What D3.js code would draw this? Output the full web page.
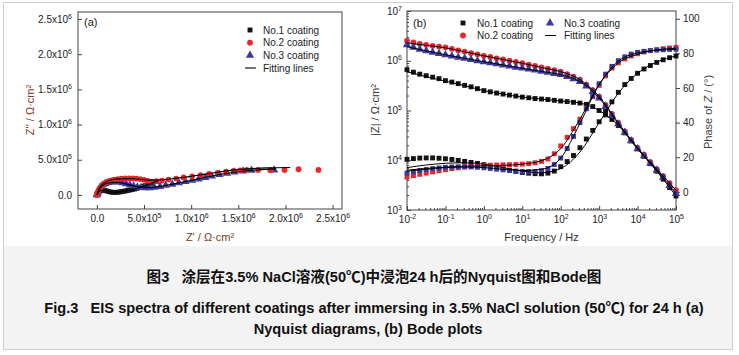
<!DOCTYPE html>
<html><head><meta charset="utf-8">
<script src="https://cdn.jsdelivr.net/npm/d3@7"></script>
<style>
body{margin:0;background:#fff;}
svg{display:block;font-family:"Liberation Sans",Arial,"Noto Sans CJK SC",sans-serif;}
</style></head><body>
<svg id="c" width="739" height="355"></svg>
<script>
// ---------------- DATA ----------------
const seriesNames = ["No.1 coating", "No.2 coating", "No.3 coating"];
const fitName = "Fitting lines";

// Nyquist data: [Z', Z''] in units of 10^6 Ω·cm²
const nyq1 = [[0,0],[0.005,0.015],[0.012,0.032],[0.022,0.048],[0.036,0.060],[0.055,0.066],[0.078,0.065],[0.10,0.058],[0.125,0.048],[0.15,0.040],[0.175,0.036],[0.20,0.036],[0.225,0.039],[0.25,0.044],[0.275,0.050],[0.30,0.056],[0.325,0.063],[0.35,0.070],[0.375,0.077],[0.40,0.085],[0.425,0.094],[0.45,0.104],[0.48,0.117],[0.51,0.131],[0.545,0.148],[0.58,0.165],[0.63,0.19]];
const nyq2 = [[0,0],[0.005,0.020],[0.012,0.045],[0.022,0.075],[0.035,0.105],[0.052,0.135],[0.075,0.160],[0.105,0.185],[0.14,0.205],[0.18,0.218],[0.22,0.226],[0.26,0.232],[0.30,0.235],[0.34,0.236],[0.38,0.235],[0.42,0.232],[0.46,0.226],[0.50,0.215],[0.54,0.200],[0.58,0.190],[0.63,0.195],[0.69,0.205],[0.76,0.218],[0.84,0.232],[0.92,0.248],[1.01,0.265],[1.10,0.282],[1.19,0.298],[1.28,0.315],[1.37,0.330],[1.45,0.342],[1.52,0.350],[1.59,0.355],[1.71,0.355],[1.84,0.352],[1.99,0.355],[2.14,0.365],[2.35,0.355]];
const nyq3 = [[0,0],[0.004,0.018],[0.010,0.042],[0.018,0.068],[0.03,0.095],[0.045,0.12],[0.065,0.143],[0.09,0.162],[0.12,0.175],[0.155,0.183],[0.19,0.185],[0.23,0.182],[0.27,0.172],[0.31,0.158],[0.35,0.142],[0.39,0.126],[0.43,0.113],[0.47,0.104],[0.51,0.100],[0.56,0.102],[0.61,0.108],[0.67,0.12],[0.73,0.135],[0.80,0.152],[0.87,0.17],[0.94,0.188],[1.01,0.206],[1.08,0.226],[1.15,0.246],[1.22,0.266],[1.30,0.288],[1.38,0.308],[1.46,0.325],[1.55,0.340],[1.64,0.35],[1.88,0.352]];
const nyqFit1 = [[0,0],[0.02,0.045],[0.05,0.065],[0.09,0.062],[0.14,0.045],[0.2,0.038],[0.3,0.055],[0.4,0.085],[0.5,0.125],[0.6,0.175],[0.65,0.2]];
const nyqFit2 = [[0,0],[0.02,0.08],[0.06,0.15],[0.12,0.2],[0.2,0.225],[0.3,0.232],[0.4,0.23],[0.48,0.22],[0.55,0.21],[0.65,0.212],[0.8,0.23],[1.0,0.265],[1.2,0.305],[1.4,0.345],[1.6,0.37],[1.8,0.385],[2.05,0.39]];
const nyqFit3 = [[0,0],[0.02,0.07],[0.06,0.13],[0.12,0.17],[0.2,0.18],[0.3,0.16],[0.4,0.125],[0.5,0.105],[0.6,0.11],[0.75,0.14],[0.9,0.18],[1.1,0.235],[1.3,0.29],[1.5,0.33],[1.7,0.355],[1.9,0.37]];
const nyqTicks = [0, 0.5, 1.0, 1.5, 2.0, 2.5];
const nyqTickLabels = [["0.0",""],["5.0x10","5"],["1.0x10","6"],["1.5x10","6"],["2.0x10","6"],["2.5x10","6"]];

// Bode data
const freq = [0.01,0.0147,0.0215,0.0316,0.0464,0.0681,0.1,0.147,0.215,0.316,0.464,0.681,1,1.47,2.15,3.16,4.64,6.81,10,14.7,21.5,31.6,46.4,68.1,100,147,215,316,464,681,1000,1470,2150,3160,4640,6810,10000,14700,21500,31600,46400,68100,100000];
const modZ1 = [6.61e5,5.89e5,5.37e5,5.01e5,4.68e5,4.37e5,3.98e5,3.72e5,3.47e5,3.20e5,2.99e5,2.75e5,2.51e5,2.37e5,2.24e5,2.14e5,2.04e5,1.95e5,1.86e5,1.80e5,1.74e5,1.70e5,1.66e5,1.60e5,1.55e5,1.51e5,1.46e5,1.41e5,1.33e5,1.20e5,1.00e5,8.13e4,6.61e4,5.01e4,3.55e4,2.45e4,1.70e4,1.20e4,8.51e3,6.03e3,4.17e3,2.82e3,1.91e3];
const modZ2 = [2.51e6,2.34e6,2.19e6,2.09e6,2.00e6,1.93e6,1.86e6,1.74e6,1.62e6,1.53e6,1.43e6,1.35e6,1.26e6,1.19e6,1.12e6,1.06e6,1.00e6,9.44e5,8.91e5,8.32e5,7.85e5,7.33e5,6.92e5,6.46e5,6.03e5,5.37e5,4.79e5,4.17e5,3.31e5,2.57e5,1.91e5,1.29e5,8.51e4,5.62e4,3.80e4,2.57e4,1.78e4,1.29e4,9.12e3,6.61e3,4.79e3,3.47e3,2.51e3];
const modZ3 = [2.09e6,1.86e6,1.70e6,1.58e6,1.48e6,1.40e6,1.32e6,1.24e6,1.17e6,1.12e6,1.06e6,1.00e6,9.55e5,9.12e5,8.71e5,8.22e5,7.85e5,7.41e5,7.08e5,6.76e5,6.46e5,6.10e5,5.82e5,5.50e5,5.25e5,4.79e5,4.32e5,3.80e5,3.09e5,2.40e5,1.78e5,1.20e5,7.94e4,5.37e4,3.63e4,2.45e4,1.70e4,1.23e4,8.71e3,6.31e3,4.47e3,3.09e3,2.14e3];
const phase1 = [18.8,19.2,19.5,19.6,19.6,19.4,19.1,18.7,18.2,17.6,17.0,16.4,15.7,14.9,14.1,13.3,12.5,11.8,11.2,10.8,10.5,10.4,10.8,12.0,14.5,17.5,21.0,25.5,30.5,35.5,40.5,46.5,52.0,57.5,62.0,65.5,68.5,71.0,73.0,74.8,76.3,77.5,78.5];
const phase2 = [8.5,9.3,10.1,10.8,11.5,12.2,12.8,13.4,13.9,14.3,14.7,15.0,15.2,15.4,15.5,15.6,15.7,15.8,16.0,16.3,16.8,17.6,19.0,22.0,26.5,31.5,36.5,42.0,48.5,55.0,61.5,67.0,71.5,74.5,76.8,78.5,79.8,80.8,81.6,82.2,82.7,83.1,83.5];
const phase3 = [10.8,11.6,12.3,12.9,13.4,13.8,14.2,14.4,14.5,14.5,14.4,14.2,13.9,13.5,13.1,12.7,12.3,12.0,11.8,11.7,11.8,12.3,13.5,15.8,19.5,25.0,32.0,40.0,48.0,55.5,62.5,68.0,72.5,75.8,78.0,79.6,80.6,81.2,81.6,81.9,82.1,82.3,82.4];
const fitFreq = [0.01,0.0316,0.1,0.316,1,3.16,10,31.6,100,316,1000,3160,10000,31600,100000];
const fitModZ1 = [6.03e5,4.79e5,3.89e5,3.16e5,2.51e5,2.14e5,1.86e5,1.70e5,1.55e5,1.41e5,1.00e5,5.01e4,1.70e4,6.03e3,1.91e3];
const fitModZ2 = [2.29e6,2.04e6,1.82e6,1.51e6,1.26e6,1.06e6,8.91e5,7.33e5,6.03e5,4.17e5,1.91e5,5.62e4,1.78e4,6.61e3,2.51e3];
const fitModZ3 = [1.91e6,1.58e6,1.32e6,1.12e6,9.55e5,8.22e5,7.08e5,6.10e5,5.25e5,3.80e5,1.78e5,5.37e4,1.70e4,6.31e3,2.14e3];
const fitPhase1 = [14,15.5,16.5,16.8,16,14,12,11,13.5,23,40,57,68.5,75,78.5];
const fitPhase2 = [12.5,13.5,14.3,14.8,15,15.3,16,18,25,42,62,74.5,79.5,82,83];
const fitPhase3 = [12,13,14,14.3,14,13,12.3,13,19.5,39.5,62,75.5,80.3,81.8,82.3];
const freqTicks = [1e-2,1e-1,1,1e1,1e2,1e3,1e4,1e5];
const freqTickExps = ["-2","-1","0","1","2","3","4","5"];
const modZTicks = [1e3,1e4,1e5,1e6,1e7];
const modZTickExps = ["3","4","5","6","7"];
const phaseTicks = [0,20,40,60,80,100];

// ---------------- STYLE ----------------
const colors = ["#141414", "#e8262b", "#3a3a9e"];
const frameColor = "#444";
const tickTextColor = "#222";
const svg = d3.select("#c");

// border and caption
svg.append("rect").attr("x",0).attr("y",0).attr("width",739).attr("height",355).attr("fill","#fff");
svg.append("rect").attr("x",4).attr("y",246).attr("width",728).attr("height",103).attr("fill","#f3f3f3");
svg.append("rect").attr("x",3.5).attr("y",2.5).attr("width",729).attr("height",347).attr("fill","none").attr("stroke","#cfcfcf");

const cap = svg.append("g").attr("font-weight","bold").attr("font-size","14.6px").attr("fill","#111").attr("text-anchor","middle")
  .style("white-space","pre");
cap.append("text").attr("x",374).attr("y",282).text("图3\u00a0\u00a0\u00a0涂层在3.5% NaCl溶液(50℃)中浸泡24 h后的Nyquist图和Bode图");
cap.append("text").attr("x",374).attr("y",313).text("Fig.3\u00a0\u00a0\u00a0EIS spectra of different coatings after immersing in 3.5% NaCl solution (50℃) for 24 h (a)");
cap.append("text").attr("x",368).attr("y",334).text("Nyquist diagrams, (b) Bode plots");

function supText(sel, base, exp){
  sel.text(null);
  sel.append("tspan").text(base);
  if (exp !== "") sel.append("tspan").attr("dy","-4").attr("font-size","7px").text(exp);
}
function marker(type, size){
  const t = type===0 ? d3.symbolSquare : type===1 ? d3.symbolCircle : d3.symbolTriangle;
  return d3.symbol().type(t).size(size)();
}
const mSizes = [24, 26, 30];

// ---------------- PANEL (a) Nyquist ----------------
const xa = d3.scaleLinear().domain([-0.2, 2.6]).range([78, 342]);
const ya = d3.scaleLinear().domain([-0.2, 2.6]).range([209, 12]);
const gA = svg.append("g");

const axA_x = gA.append("g").attr("transform","translate(0,209)")
  .call(d3.axisBottom(xa).tickValues(nyqTicks).tickSize(-4).tickPadding(6).tickFormat(""));
axA_x.selectAll(".tick text").each(function(d,i){ supText(d3.select(this), nyqTickLabels[i][0], nyqTickLabels[i][1]); });
const axA_y = gA.append("g").attr("transform","translate(78,0)")
  .call(d3.axisLeft(ya).tickValues(nyqTicks).tickSize(-4).tickPadding(6).tickFormat(""));
axA_y.selectAll(".tick text").each(function(d,i){ supText(d3.select(this), nyqTickLabels[i][0], nyqTickLabels[i][1]); });
[axA_x, axA_y].forEach(a=>{
  a.select(".domain").remove();
  a.selectAll(".tick line").attr("stroke",frameColor);
  a.selectAll(".tick text").attr("fill",tickTextColor).attr("font-size","10px").attr("font-family",null);
});
gA.append("rect").attr("x",78).attr("y",12).attr("width",264).attr("height",197).attr("fill","none").attr("stroke",frameColor);

const nyqSeries = [nyq1, nyq2, nyq3];
[0,2,1].forEach(s=>{
  gA.append("g").selectAll("path").data(nyqSeries[s]).join("path")
    .attr("d", marker(s, mSizes[s]))
    .attr("transform", d=>`translate(${xa(d[0])},${ya(d[1])})`)
    .attr("fill", colors[s]);
});
const lineA = d3.line().x(d=>xa(d[0])).y(d=>ya(d[1])).curve(d3.curveMonotoneX);
[nyqFit1, nyqFit2, nyqFit3].forEach(f=>{
  gA.append("path").attr("d", lineA(f)).attr("fill","none").attr("stroke","#000").attr("stroke-width",1.1);
});

gA.append("text").attr("x",84).attr("y",26).attr("font-size","11px").attr("fill","#222").text("(a)");
// legend (a)
const legA = gA.append("g").attr("font-size","10px").attr("fill","#222");
[0,1,2].forEach(i=>{
  const yy = 30 + i*12.7;
  legA.append("path").attr("d", marker(i, mSizes[i])).attr("transform",`translate(250,${yy})`).attr("fill",colors[i]);
  legA.append("text").attr("x",263).attr("y",yy+3.5).text(seriesNames[i]);
});
legA.append("line").attr("x1",245).attr("x2",256).attr("y1",68).attr("y2",68).attr("stroke","#000").attr("stroke-width",1.1);
legA.append("text").attr("x",263).attr("y",71.5).text(fitName);

// axis labels (a)
gA.append("text").attr("x",210).attr("y",241).attr("text-anchor","middle").attr("font-size","11px").attr("fill","#7a3a1a").text("Z' / Ω·cm²");
gA.append("text").attr("transform","translate(34,110) rotate(-90)").attr("text-anchor","middle").attr("font-size","11px").attr("fill","#7a3a1a").text("Z'' / Ω·cm²");

// ---------------- PANEL (b) Bode ----------------
const xb = d3.scaleLog().domain([1e-2, 1e5]).range([407, 676]);
const yb = d3.scaleLog().domain([1e3, 1e7]).range([210, 11]);
const yp = d3.scaleLinear().domain([-10.5, 104.5]).range([210, 11]);
const gB = svg.append("g");

const minorX = xb.ticks().filter(v => !freqTicks.some(t => Math.abs(t - v) / t < 1e-6));
const minorY = yb.ticks().filter(v => !modZTicks.some(t => Math.abs(t - v) / t < 1e-6));

gB.append("g").attr("transform","translate(0,210)").call(d3.axisBottom(xb).tickValues(minorX).tickSize(-2).tickFormat(""))
  .call(a=>{a.select(".domain").remove(); a.selectAll("line").attr("stroke",frameColor);});
gB.append("g").attr("transform","translate(407,0)").call(d3.axisLeft(yb).tickValues(minorY).tickSize(-2).tickFormat(""))
  .call(a=>{a.select(".domain").remove(); a.selectAll("line").attr("stroke",frameColor);});

const axB_x = gB.append("g").attr("transform","translate(0,210)")
  .call(d3.axisBottom(xb).tickValues(freqTicks).tickSize(-4).tickPadding(6).tickFormat(""));
axB_x.selectAll(".tick text").each(function(d,i){ supText(d3.select(this), "10", freqTickExps[i]); });
const axB_y = gB.append("g").attr("transform","translate(407,0)")
  .call(d3.axisLeft(yb).tickValues(modZTicks).tickSize(-4).tickPadding(5).tickFormat(""));
axB_y.selectAll(".tick text").each(function(d,i){ supText(d3.select(this), "10", modZTickExps[i]); });
const axB_p = gB.append("g").attr("transform","translate(676,0)")
  .call(d3.axisRight(yp).tickValues(phaseTicks).tickSize(4).tickPadding(3));
[axB_x, axB_y, axB_p].forEach(a=>{
  a.select(".domain").remove();
  a.selectAll(".tick line").attr("stroke",frameColor);
  a.selectAll(".tick text").attr("fill",tickTextColor).attr("font-size","10px").attr("font-family",null);
});
gB.append("rect").attr("x",407).attr("y",11).attr("width",269).attr("height",199).attr("fill","none").attr("stroke",frameColor);

const modZs = [modZ1, modZ2, modZ3];
const phases = [phase1, phase2, phase3];
[0,1,2].forEach(s=>{
  gB.append("g").selectAll("path").data(freq.map((f,i)=>[f, phases[s][i]])).join("path")
    .attr("d", marker(0, mSizes[0]))
    .attr("transform", d=>`translate(${xb(d[0])},${yp(d[1])})`)
    .attr("fill", colors[s]);
  gB.append("g").selectAll("path").data(freq.map((f,i)=>[f, modZs[s][i]])).join("path")
    .attr("d", marker(s, mSizes[s]))
    .attr("transform", d=>`translate(${xb(d[0])},${yb(d[1])})`)
    .attr("fill", colors[s]);
});
const lineZ = d3.line().x(d=>xb(d[0])).y(d=>yb(d[1])).curve(d3.curveMonotoneX);
const lineP = d3.line().x(d=>xb(d[0])).y(d=>yp(d[1])).curve(d3.curveMonotoneX);
[fitModZ1, fitModZ2, fitModZ3].forEach(z=>{
  gB.append("path").attr("d", lineZ(fitFreq.map((f,i)=>[f,z[i]]))).attr("fill","none").attr("stroke","#000").attr("stroke-width",1);
});
[fitPhase1, fitPhase2, fitPhase3].forEach(p=>{
  gB.append("path").attr("d", lineP(fitFreq.map((f,i)=>[f,p[i]]))).attr("fill","none").attr("stroke","#000").attr("stroke-width",1);
});

gB.append("text").attr("x",413).attr("y",27).attr("font-size","11px").attr("fill","#222").text("(b)");
const legB = gB.append("g").attr("font-size","10px").attr("fill","#222");
const legPos = [[463,23],[463,35.5],[550,23]];
[0,1,2].forEach(i=>{
  legB.append("path").attr("d", marker(i, mSizes[i])).attr("transform",`translate(${legPos[i][0]},${legPos[i][1]})`).attr("fill",colors[i]);
  legB.append("text").attr("x",legPos[i][0]+14).attr("y",legPos[i][1]+3.5).text(seriesNames[i]);
});
legB.append("line").attr("x1",545).attr("x2",556).attr("y1",35.5).attr("y2",35.5).attr("stroke","#000");
legB.append("text").attr("x",564).attr("y",39).text(fitName);

gB.append("text").attr("x",541.5).attr("y",241).attr("text-anchor","middle").attr("font-size","11px").attr("fill","#333").text("Frequency / Hz");
gB.append("text").attr("transform","translate(379,110) rotate(-90)").attr("text-anchor","middle").attr("font-size","11px").attr("fill","#333").text("|Z| / Ω·cm²");
const pl = gB.append("text").attr("transform","translate(712,112) rotate(-90)").attr("text-anchor","middle").attr("font-size","11px").attr("fill","#444");
pl.append("tspan").text("Phase of ");
pl.append("tspan").attr("font-style","italic").text("Z");
pl.append("tspan").text(" / (°)");
</script>
</body></html>
